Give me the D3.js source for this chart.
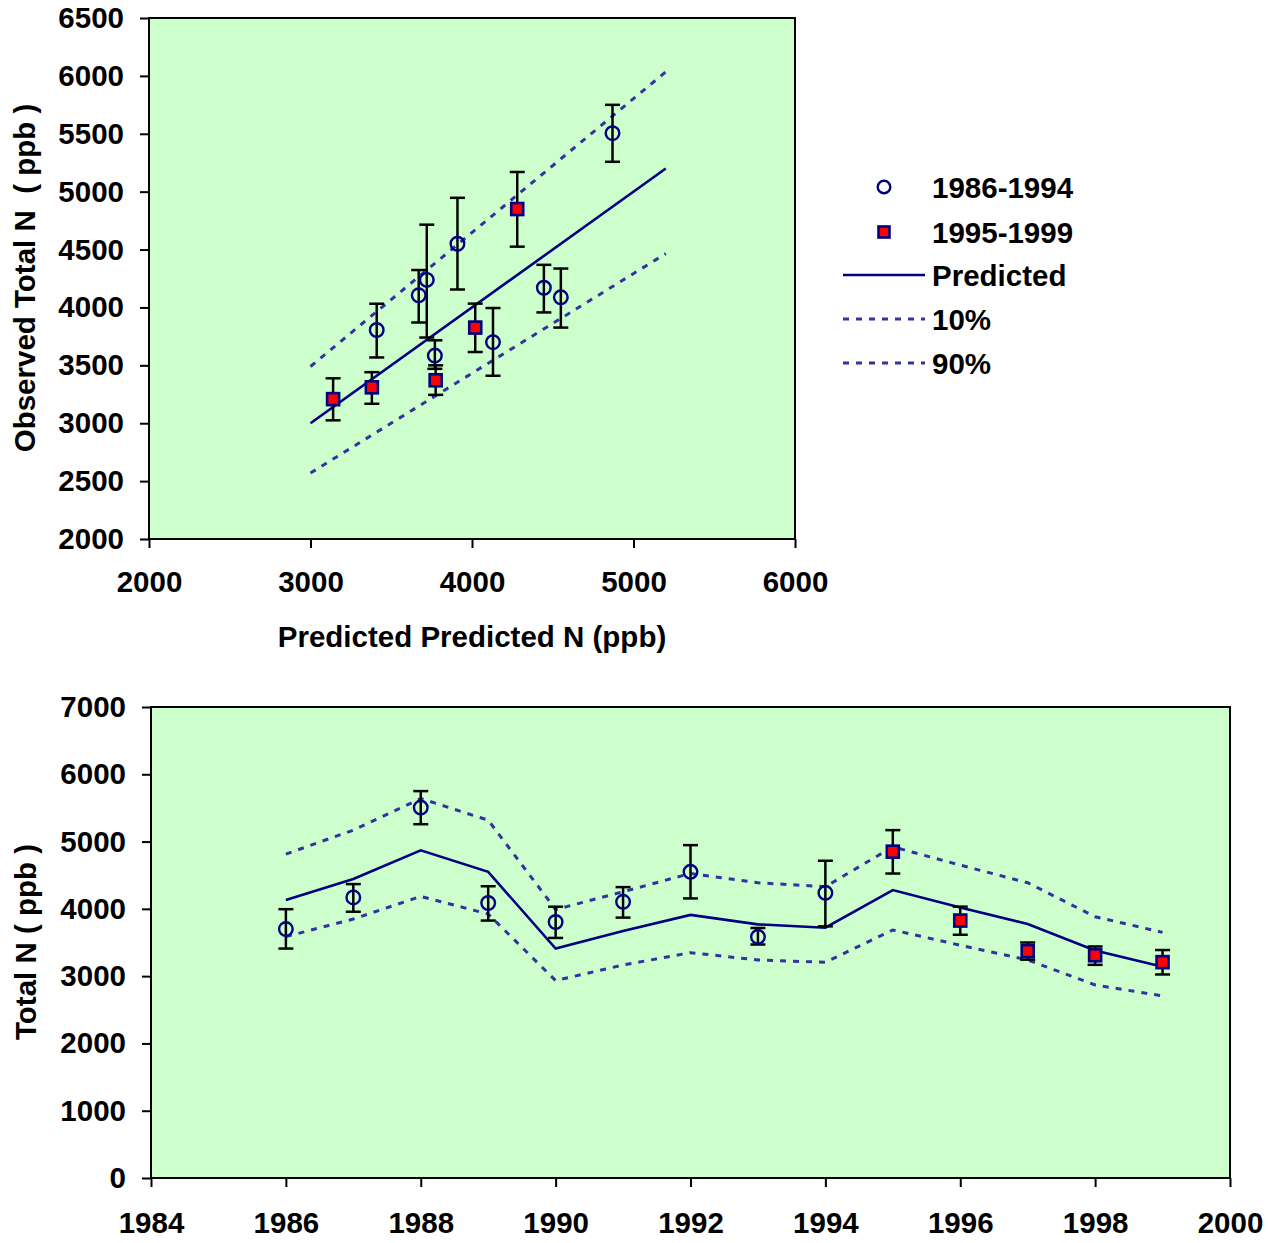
<!DOCTYPE html>
<html>
<head>
<meta charset="utf-8">
<script src="https://cdn.jsdelivr.net/npm/d3@7"></script>
<style>
  html, body { margin: 0; padding: 0; background: #ffffff; }
  svg { display: block; }
  text { font-family: "Liberation Sans", Arial, sans-serif; font-weight: bold; fill: #000; }
</style>
</head>
<body>
<svg id="chart" width="1268" height="1243"></svg>
<script>
// Annual total nitrogen, observed vs. model prediction
const years     = [1986, 1987, 1988, 1989, 1990, 1991, 1992, 1993, 1994, 1995, 1996, 1997, 1998, 1999];
const predicted = [4130, 4445, 4870, 4550, 3410, 3670, 3910, 3770, 3720, 4280, 4020, 3775, 3380, 3140];
const observed  = [3700, 4170, 5505, 4087, 3805, 4105, 4550, 3584, 4238, 4850, 3826, 3371, 3310, 3208];
const errLow    = [3410, 3957, 5258, 3826, 3568, 3870, 4155, 3470, 3740, 4525, 3615, 3245, 3168, 3025];
const errHigh   = [3995, 4368, 5750, 4336, 4032, 4323, 4947, 3716, 4715, 5170, 4033, 3500, 3441, 3388];
const pct90     = [4814, 5170, 5640, 5318, 3990, 4254, 4526, 4388, 4329, 4922, 4650, 4388, 3883, 3651];
const pct10     = [3587, 3849, 4185, 3923, 2934, 3166, 3349, 3240, 3206, 3686, 3460, 3240, 2869, 2706];

// 1:1 reference line and its 10% / 90% bands for the scatter panel
const refX    = [3000, 5200];
const refPred = [3000, 5200];
const ref90   = [3490, 6035];
const ref10   = [2570, 4465];

const scatterXTicks = [2000, 3000, 4000, 5000, 6000];
const scatterYTicks = [2000, 2500, 3000, 3500, 4000, 4500, 5000, 5500, 6000, 6500];
const yearTicks  = [1984, 1986, 1988, 1990, 1992, 1994, 1996, 1998, 2000];
const totalTicks = [0, 1000, 2000, 3000, 4000, 5000, 6000, 7000];

const legendLabels = ["1986-1994", "1995-1999", "Predicted", "10%", "90%"];

const NAVY = "#000080";
const DASH = "#3333a0";
const BG = "#ccffcc";
const FS = 29.5;

const rows = years.map((y, i) => ({
  year: y, pred: predicted[i], obs: observed[i], lo: errLow[i], hi: errHigh[i],
  p90: pct90[i], p10: pct10[i], late: y >= 1995
}));

const svg = d3.select("#chart");

function styleAxis(g) {
  g.select(".domain").remove();
  g.selectAll(".tick line").attr("stroke", "#000").attr("stroke-width", 2);
  g.selectAll(".tick text").style("font-size", FS + "px").style("font-weight", "bold")
    .style("font-family", '"Liberation Sans", Arial, sans-serif').attr("fill", "#000");
}

function drawMarkers(g, data, xf, yf) {
  // error bars
  const eb = g.append("g").attr("stroke", "#000").attr("stroke-width", 2.5);
  data.forEach(d => {
    const x = xf(d);
    eb.append("line").attr("x1", x).attr("x2", x).attr("y1", yf(d.lo)).attr("y2", yf(d.hi));
    eb.append("line").attr("x1", x - 7.5).attr("x2", x + 7.5).attr("y1", yf(d.lo)).attr("y2", yf(d.lo));
    eb.append("line").attr("x1", x - 7.5).attr("x2", x + 7.5).attr("y1", yf(d.hi)).attr("y2", yf(d.hi));
  });
  g.selectAll("circle.early").data(data.filter(d => !d.late)).join("circle")
    .attr("class", "early")
    .attr("cx", xf).attr("cy", d => yf(d.obs)).attr("r", 6.8)
    .attr("fill", "none").attr("stroke", NAVY).attr("stroke-width", 2.4);
  g.selectAll("rect.late").data(data.filter(d => d.late)).join("rect")
    .attr("class", "late")
    .attr("x", d => xf(d) - 6).attr("y", d => yf(d.obs) - 6)
    .attr("width", 12).attr("height", 12)
    .attr("fill", "#ff0000").attr("stroke", NAVY).attr("stroke-width", 2.6);
}

// ---------- Panel 1: observed vs predicted ----------
{
  const L = 149, R = 795, T = 18, B = 539;
  const x = d3.scaleLinear().domain([2000, 6000]).range([L, R]);
  const y = d3.scaleLinear().domain([2000, 6500]).range([B, T]);

  svg.append("rect").attr("x", L).attr("y", T).attr("width", R - L).attr("height", B - T)
    .attr("fill", BG);

  const line = d3.line().x(d => x(d[0])).y(d => y(d[1]));
  svg.append("path").attr("d", line(refX.map((v, i) => [v, ref90[i]])))
    .attr("fill", "none").attr("stroke", DASH).attr("stroke-width", 3).attr("stroke-dasharray", "6,7");
  svg.append("path").attr("d", line(refX.map((v, i) => [v, ref10[i]])))
    .attr("fill", "none").attr("stroke", DASH).attr("stroke-width", 3).attr("stroke-dasharray", "6,7");
  svg.append("path").attr("d", line(refX.map((v, i) => [v, refPred[i]])))
    .attr("fill", "none").attr("stroke", NAVY).attr("stroke-width", 2.6);

  drawMarkers(svg.append("g"), rows, d => x(d.pred), y);

  svg.append("rect").attr("x", L).attr("y", T).attr("width", R - L).attr("height", B - T)
    .attr("fill", "none").attr("stroke", "#000").attr("stroke-width", 2);

  svg.append("g").attr("transform", `translate(${L},0)`)
    .call(d3.axisLeft(y).tickValues(scatterYTicks).tickFormat(d3.format("d")).tickSize(9).tickPadding(16))
    .call(styleAxis);
  svg.append("g").attr("transform", `translate(0,${B})`)
    .call(d3.axisBottom(x).tickValues(scatterXTicks).tickFormat(d3.format("d")).tickSize(9).tickPadding(23))
    .call(styleAxis);

  svg.append("text").attr("x", 472).attr("y", 647).attr("text-anchor", "middle")
    .style("font-size", FS + "px").text("Predicted Predicted N (ppb)");
  svg.append("text").attr("transform", "translate(35,278) rotate(-90)").attr("text-anchor", "middle")
    .style("font-size", FS + "px").style("white-space", "pre").text("Observed Total N  ( ppb )");

  // legend
  const lx = 884, tx = 932, ly = [187, 232, 275, 319, 363];
  svg.append("circle").attr("cx", lx).attr("cy", ly[0]).attr("r", 6.3)
    .attr("fill", "none").attr("stroke", NAVY).attr("stroke-width", 2.4);
  svg.append("rect").attr("x", lx - 5.5).attr("y", ly[1] - 5.5).attr("width", 11).attr("height", 11)
    .attr("fill", "#ff0000").attr("stroke", NAVY).attr("stroke-width", 2.6);
  svg.append("line").attr("x1", 843).attr("x2", 925).attr("y1", ly[2]).attr("y2", ly[2])
    .attr("stroke", NAVY).attr("stroke-width", 2.6);
  [3, 4].forEach(k => svg.append("line").attr("x1", 843).attr("x2", 925).attr("y1", ly[k]).attr("y2", ly[k])
    .attr("stroke", DASH).attr("stroke-width", 3).attr("stroke-dasharray", "6,7"));
  legendLabels.forEach((t, k) => svg.append("text").attr("x", tx).attr("y", ly[k] + 10.5)
    .style("font-size", FS + "px").text(t));
}

// ---------- Panel 2: time series ----------
{
  const L = 151, R = 1230, T = 707, B = 1178;
  const x = d3.scaleLinear().domain([1984, 2000]).range([L, R]);
  const y = d3.scaleLinear().domain([0, 7000]).range([B, T]);

  svg.append("rect").attr("x", L).attr("y", T).attr("width", R - L).attr("height", B - T)
    .attr("fill", BG);

  const mk = key => d3.line().x(d => x(d.year)).y(d => y(d[key]))(rows);
  svg.append("path").attr("d", mk("p90"))
    .attr("fill", "none").attr("stroke", DASH).attr("stroke-width", 3).attr("stroke-dasharray", "6,7");
  svg.append("path").attr("d", mk("p10"))
    .attr("fill", "none").attr("stroke", DASH).attr("stroke-width", 3).attr("stroke-dasharray", "6,7");
  svg.append("path").attr("d", mk("pred"))
    .attr("fill", "none").attr("stroke", NAVY).attr("stroke-width", 2.6);

  drawMarkers(svg.append("g"), rows, d => x(d.year), y);

  svg.append("rect").attr("x", L).attr("y", T).attr("width", R - L).attr("height", B - T)
    .attr("fill", "none").attr("stroke", "#000").attr("stroke-width", 2);

  svg.append("g").attr("transform", `translate(${L},0)`)
    .call(d3.axisLeft(y).tickValues(totalTicks).tickFormat(d3.format("d")).tickSize(9).tickPadding(16))
    .call(styleAxis);
  svg.append("g").attr("transform", `translate(0,${B})`)
    .call(d3.axisBottom(x).tickValues(yearTicks).tickFormat(d3.format("d")).tickSize(9).tickPadding(25))
    .call(styleAxis);

  svg.append("text").attr("transform", "translate(36,942) rotate(-90)").attr("text-anchor", "middle")
    .style("font-size", FS + "px").style("white-space", "pre").text("Total N ( ppb )");
}
</script>
</body>
</html>
